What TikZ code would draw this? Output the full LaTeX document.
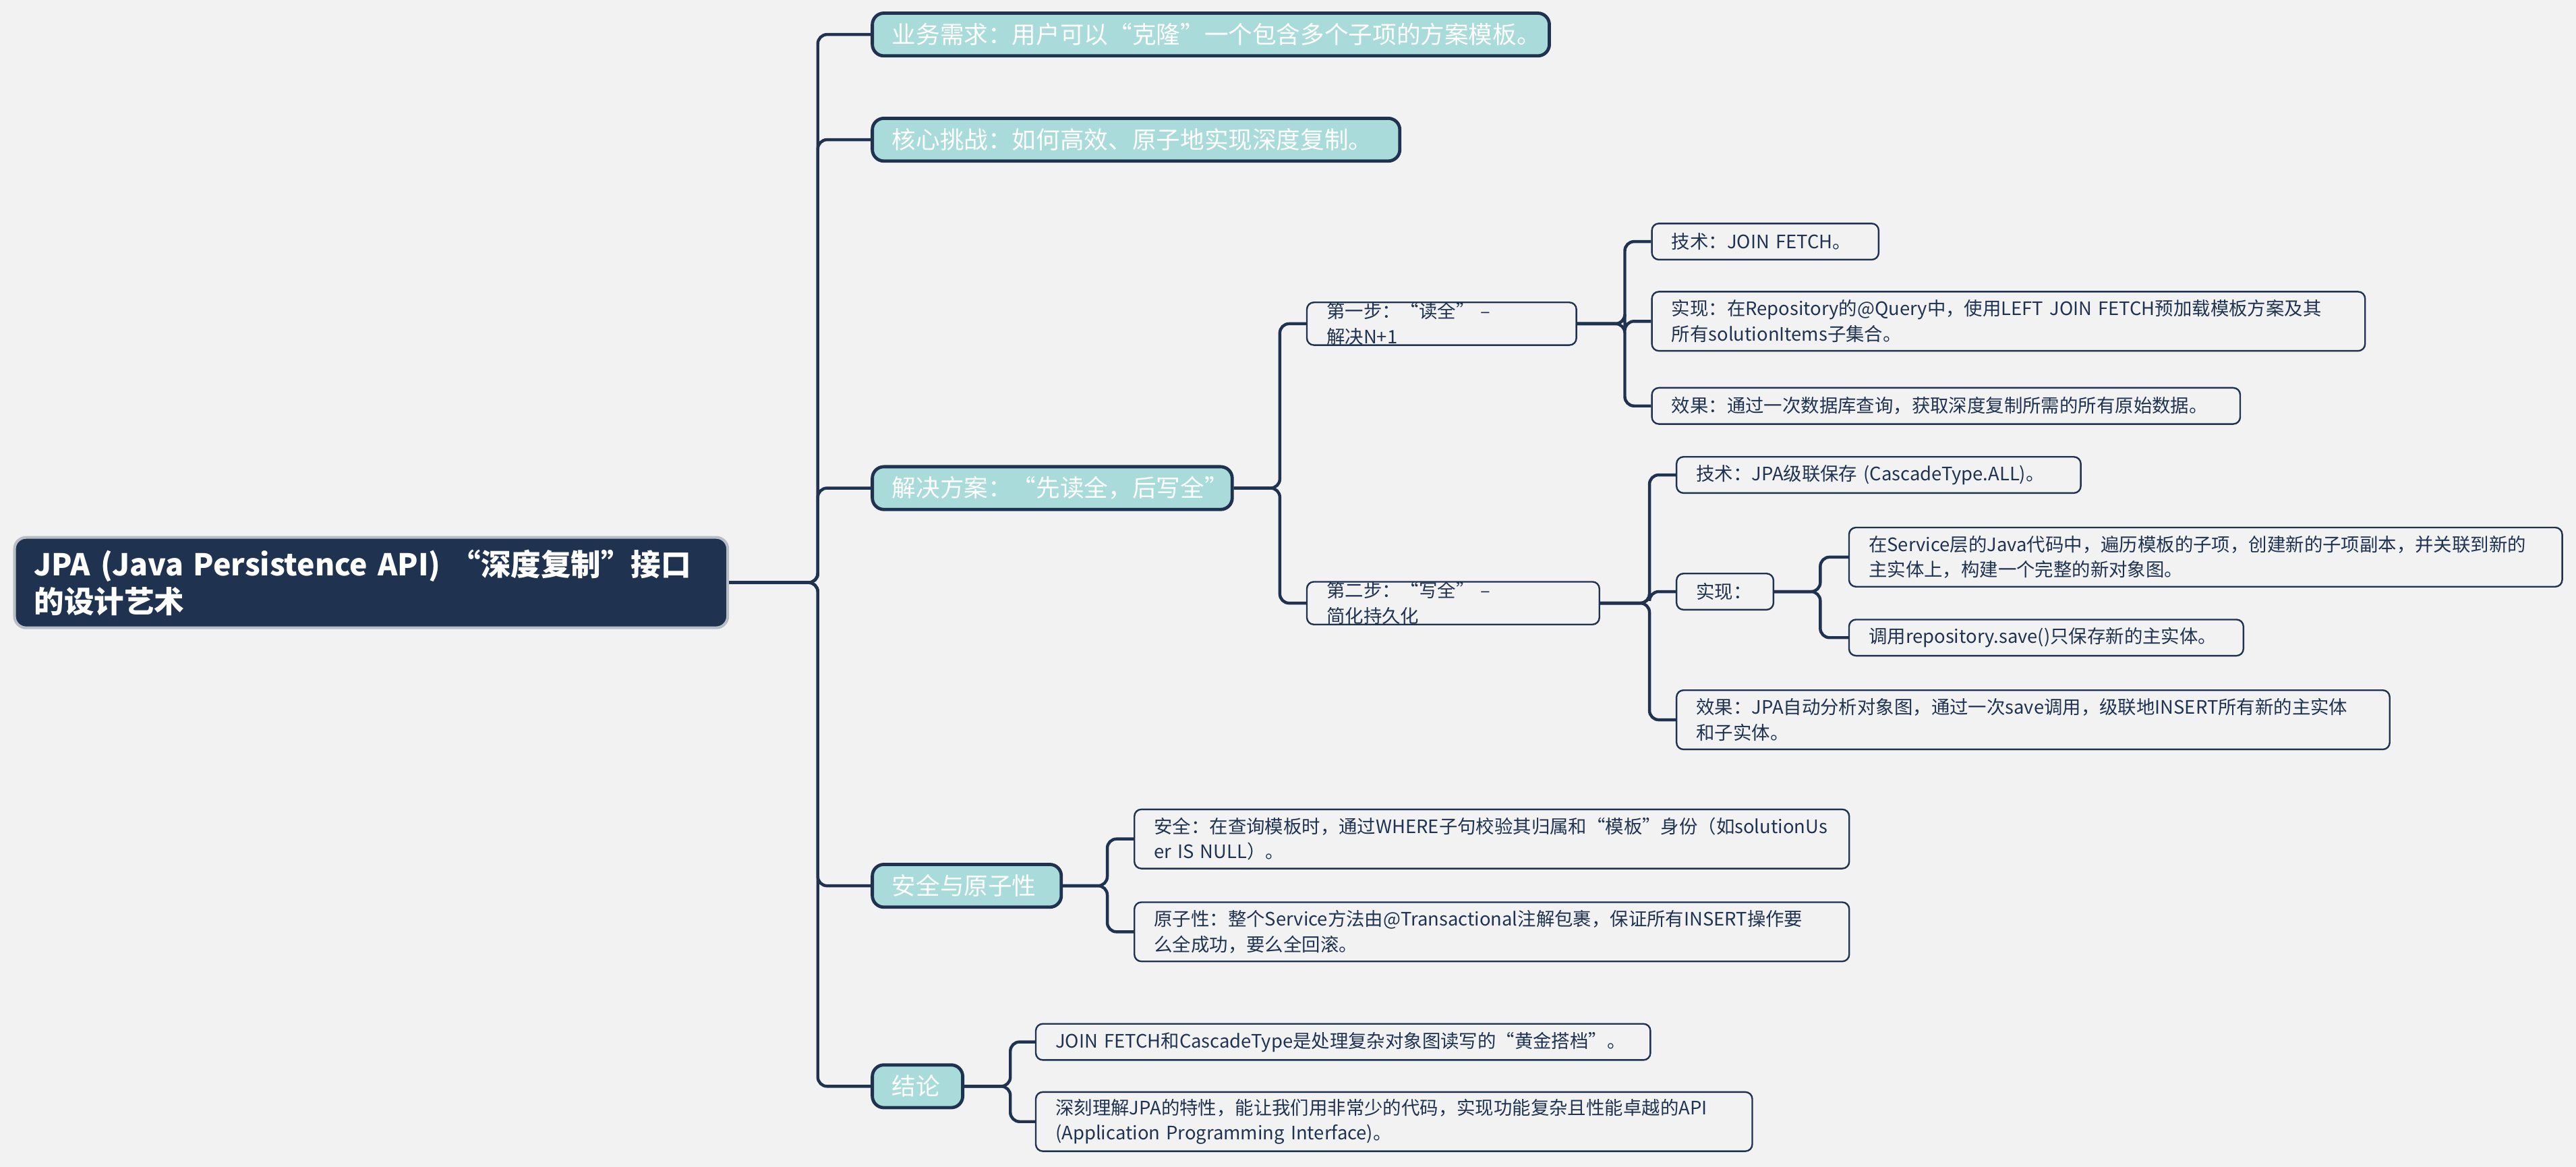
\documentclass[tikz,border=0pt]{standalone}
\usepackage{fontspec}
\setmainfont{Noto Sans CJK SC}
\definecolor{navy}{HTML}{1F3350}
\definecolor{teal1}{HTML}{A8DBD9}
\definecolor{bg}{HTML}{F2F2F2}
\definecolor{rootborder}{HTML}{B8BEC6}
\begin{document}
\begin{tikzpicture}[x=0.025cm,y=-0.025cm,
  base/.style={anchor=west,rounded corners=3pt,inner xsep=0.3cm,inner ysep=0pt,align=left},
  rootn/.style={base,fill=navy,draw=rootborder,line width=1.2pt,text=white,font=\fontsize{13}{16}\selectfont\bfseries,rounded corners=5pt},
  lone/.style={base,fill=teal1,draw=navy,line width=1.4pt,text=white,font=\fontsize{10.4}{12}\selectfont,minimum height=0.65cm,rounded corners=5pt},
  leaf/.style={base,fill=bg,draw=navy,line width=0.7pt,text=navy,font=\fontsize{8}{11}\selectfont,minimum height=0.55cm},
  tall/.style={minimum height=0.9cm},
  conn/.style={draw=navy,line width=1.3pt,rounded corners=4pt}]
\fill[bg] (0,0) rectangle (1568,710);
% root
\node[rootn,minimum width=10.85cm,minimum height=1.375cm,text width=10.25cm] (root) at (8,354.5) {JPA (Java Persistence API) “深度复制”接口\\的设计艺术};
% level 1
\node[lone,minimum width=10.3cm,text width=9.7cm] (A) at (530,21) {业务需求：用户可以“克隆”一个包含多个子项的方案模板。};
\node[lone,minimum width=8.025cm,text width=7.425cm] (B) at (530,85) {核心挑战：如何高效、原子地实现深度复制。};
\node[lone,minimum width=5.475cm,text width=4.875cm] (C) at (530,297) {解决方案：“先读全，后写全”};
\node[lone,minimum width=2.875cm,text width=2.275cm] (D) at (530,539) {安全与原子性};
\node[lone,minimum width=1.375cm,text width=0.775cm] (E) at (530,661) {结论};
% solution
\node[leaf,minimum width=4.1cm,text width=3.5cm] (S1) at (795,197) {第一步：“读全” – 解决N+1};
\node[leaf,minimum width=4.45cm,text width=3.85cm] (S2) at (795,367) {第二步：“写全” – 简化持久化};
\node[leaf,minimum width=3.45cm,text width=2.85cm] (S1a) at (1005,147) {技术：JOIN FETCH。};
\node[leaf,tall,minimum width=10.85cm,text width=10.25cm] (S1b) at (1005,195.5) {实现：在Repository的@Query中，使用LEFT JOIN FETCH预加载模板方案及其\\所有solutionItems子集合。};
\node[leaf,minimum width=8.95cm,text width=8.35cm] (S1c) at (1005,247) {效果：通过一次数据库查询，获取深度复制所需的所有原始数据。};
\node[leaf,minimum width=6.15cm,text width=5.55cm] (S2a) at (1020,289) {技术：JPA级联保存 (CascadeType.ALL)。};
\node[leaf,minimum width=1.475cm,text width=0.875cm] (S2b) at (1020,360) {实现：};
\node[leaf,tall,minimum width=10.85cm,text width=10.25cm] (S2c) at (1020,438) {效果：JPA自动分析对象图，通过一次save调用，级联地INSERT所有新的主实体\\和子实体。};
\node[leaf,tall,minimum width=10.85cm,text width=10.25cm] (S2b1) at (1125,339) {在Service层的Java代码中，遍历模板的子项，创建新的子项副本，并关联到新的\\主实体上，构建一个完整的新对象图。};
\node[leaf,minimum width=6.0cm,text width=5.4cm] (S2b2) at (1125,388) {调用repository.save()只保存新的主实体。};
% safety
\node[leaf,tall,minimum width=10.875cm,text width=10.275cm] (D1) at (690,510.5) {安全：在查询模板时，通过WHERE子句校验其归属和“模板”身份（如solutionUs\\er IS NULL）。};
\node[leaf,tall,minimum width=10.875cm,text width=10.275cm] (D2) at (690,567) {原子性：整个Service方法由@Transactional注解包裹，保证所有INSERT操作要\\么全成功，要么全回滚。};
% conclusion
\node[leaf,minimum width=9.35cm,text width=8.75cm] (E1) at (630,634) {JOIN FETCH和CascadeType是处理复杂对象图读写的“黄金搭档”。};
\node[leaf,tall,minimum width=10.9cm,text width=10.3cm] (E2) at (630,682.5) {深刻理解JPA的特性，能让我们用非常少的代码，实现功能复杂且性能卓越的API\\(Application Programming Interface)。};
% connectors
\foreach \c in {A,B,C,D,E} \draw[conn] (root.east) -- ++(54,0) |- (\c.west);
\foreach \c in {S1,S2} \draw[conn] (C.east) -- ++(28,0) |- (\c.west);
\foreach \c in {S1a,S1b,S1c} \draw[conn] (S1.east) -- ++(29,0) |- (\c.west);
\foreach \c in {S2a,S2b,S2c} \draw[conn] (S2.east) -- ++(30,0) |- (\c.west);
\foreach \c in {S2b1,S2b2} \draw[conn] (S2b.east) -- ++(28,0) |- (\c.west);
\foreach \c in {D1,D2} \draw[conn] (D.east) -- ++(27,0) |- (\c.west);
\foreach \c in {E1,E2} \draw[conn] (E.east) -- ++(28,0) |- (\c.west);
\end{tikzpicture}
\end{document}
